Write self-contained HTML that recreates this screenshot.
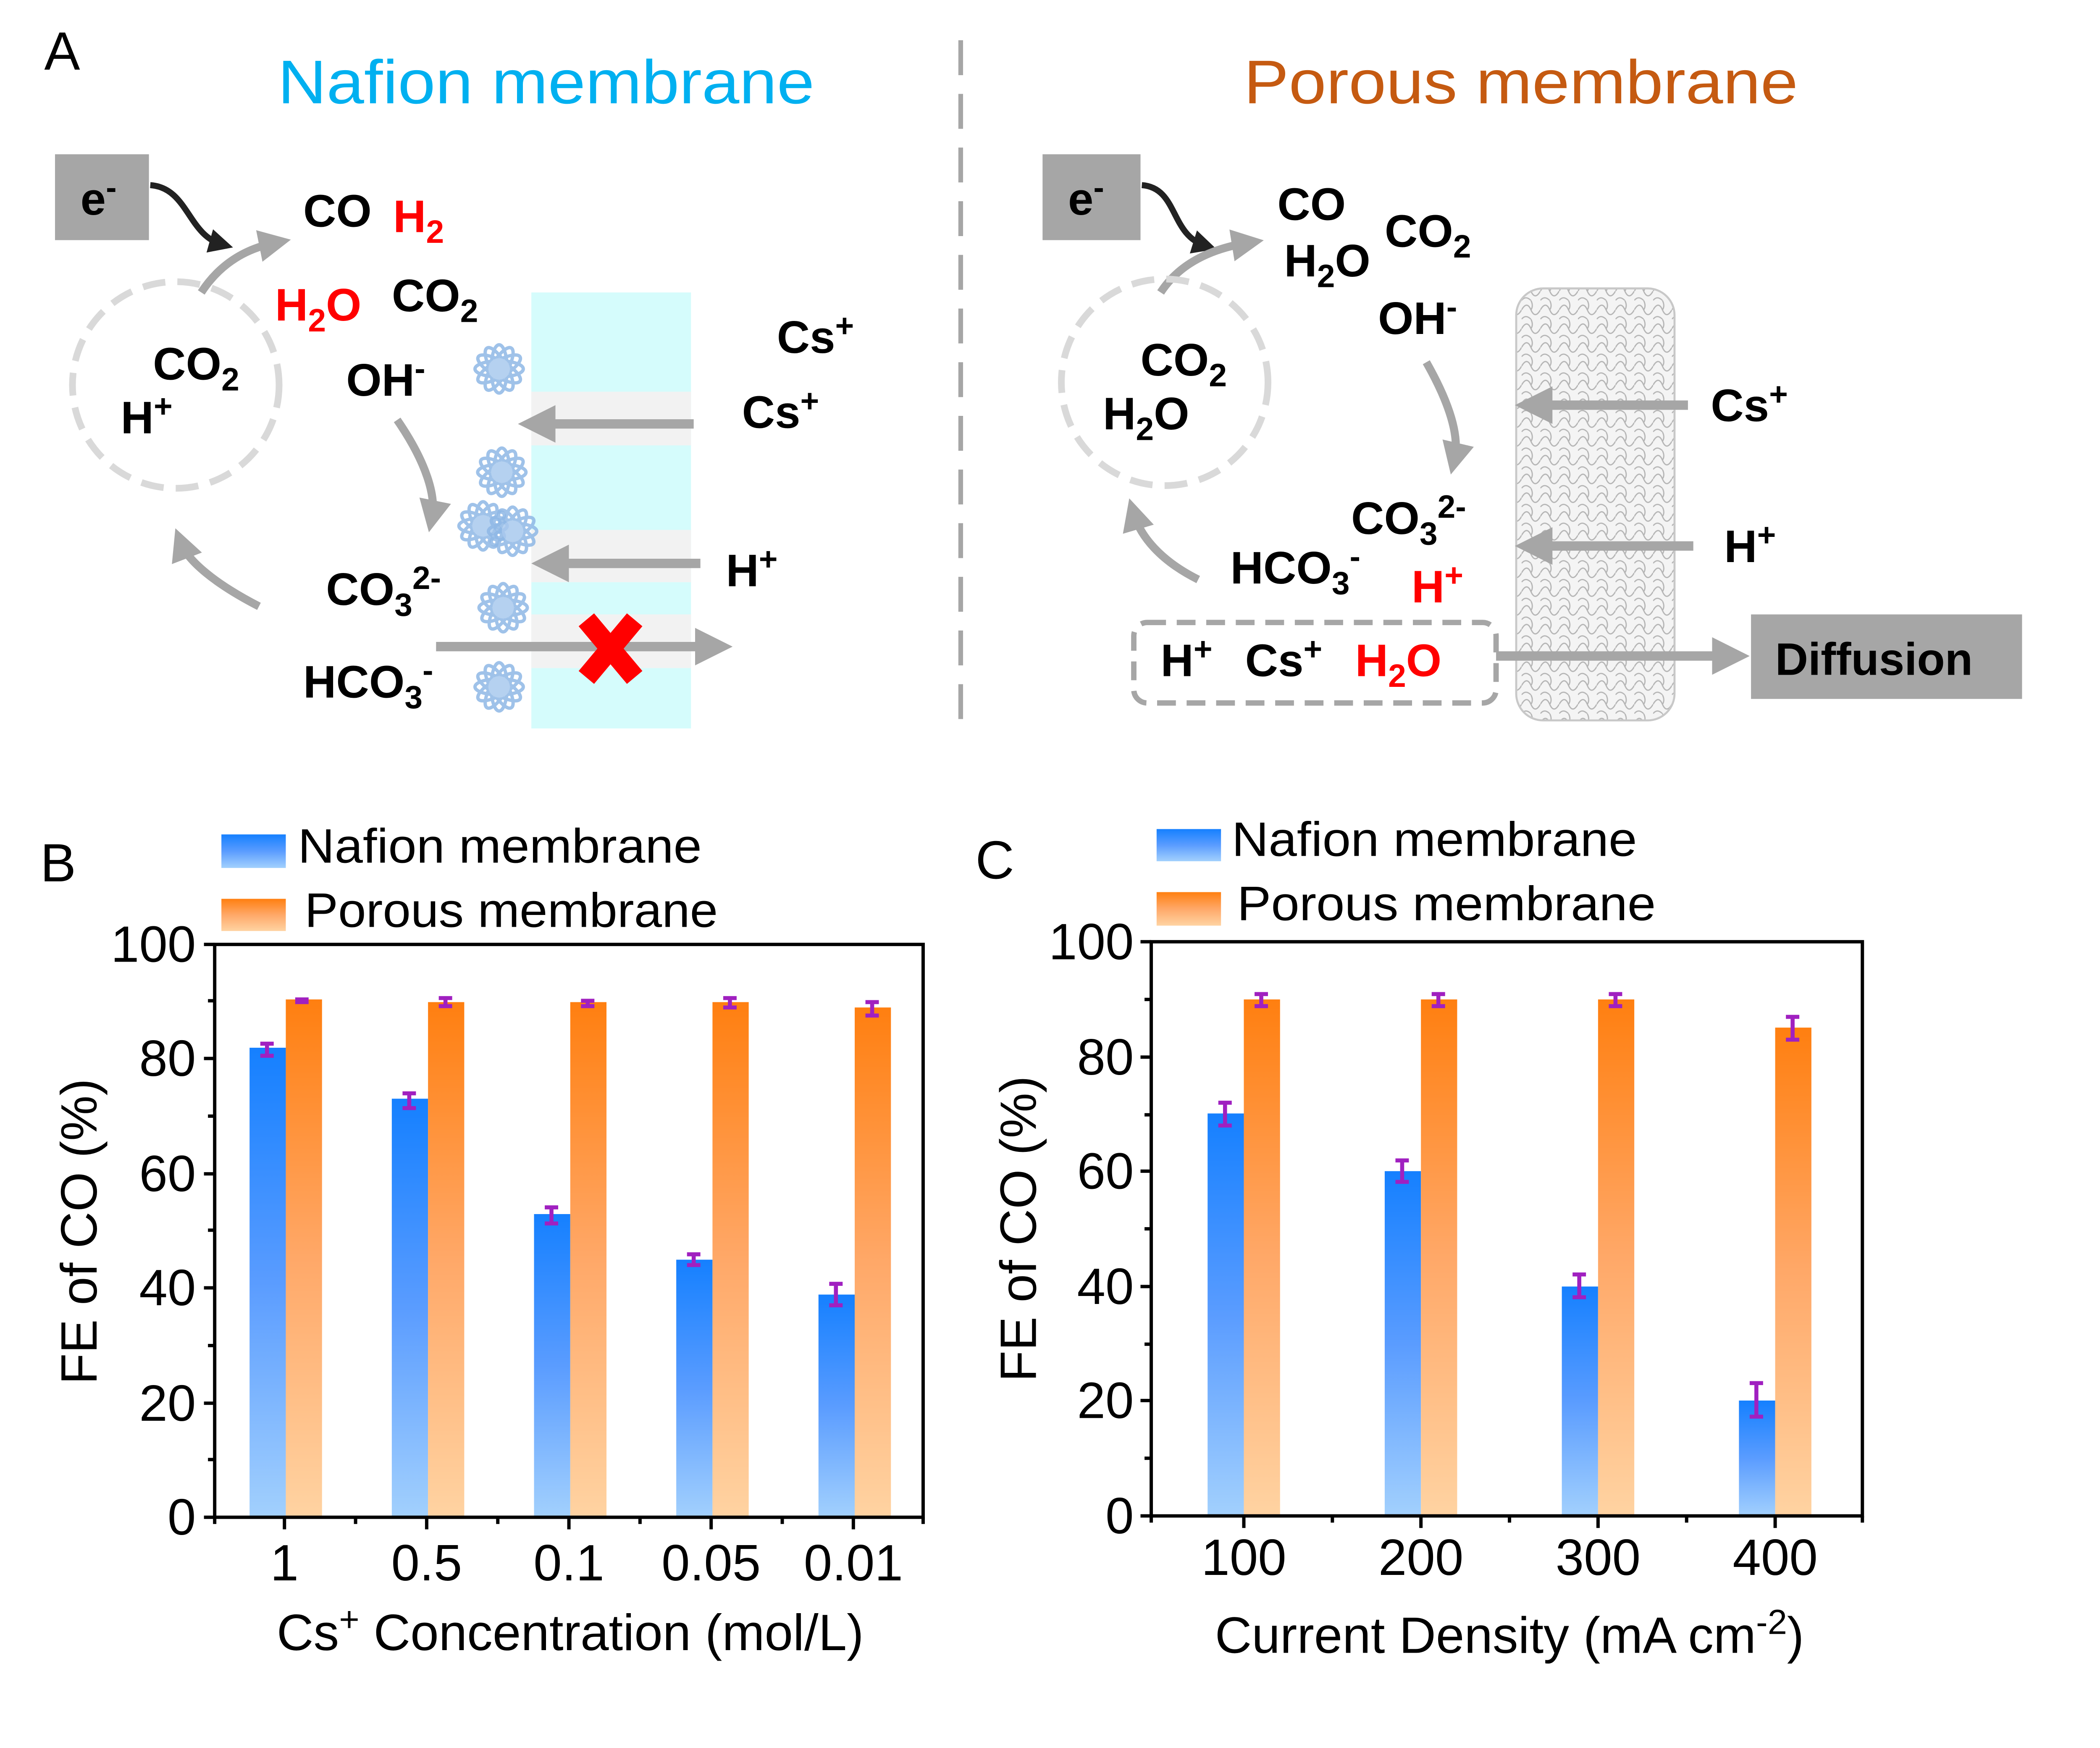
<!DOCTYPE html>
<html><head><meta charset="utf-8"><style>
html,body{margin:0;padding:0;background:#fff;}
svg{display:block;}
text{font-family:"Liberation Sans",Arial,sans-serif;}
.b{font-weight:bold;font-size:34px;}
.t{font-size:38px;}
</style></head><body>
<svg width="5185" height="4161" viewBox="0 0 1623 1303" preserveAspectRatio="none" xmlns="http://www.w3.org/2000/svg">
<defs>
<linearGradient id="gb" x1="0" y1="0" x2="0" y2="1"><stop offset="0" stop-color="#1580ff"/><stop offset="0.5" stop-color="#5a9cff"/><stop offset="1" stop-color="#a2d0fd"/></linearGradient>
<linearGradient id="go" x1="0" y1="0" x2="0" y2="1"><stop offset="0" stop-color="#ff7f10"/><stop offset="0.5" stop-color="#ffa868"/><stop offset="1" stop-color="#ffd3a2"/></linearGradient>
<pattern id="mesh" width="14" height="14" patternUnits="userSpaceOnUse"><rect width="14" height="14" fill="#f4f4f4"/><path d="M0 7 Q4 0 7 7 T14 7 M7 0 Q9 4 7 7 M0 14 Q3 10 7 14" fill="none" stroke="#b5b5b5" stroke-width="0.9"/></pattern>
<marker id="ah" markerWidth="4" markerHeight="4" refX="2" refY="2" orient="auto" markerUnits="strokeWidth"><path d="M0,0 L4,2 L0,4 z" fill="#a6a6a6"/></marker>
<marker id="ak" markerWidth="4" markerHeight="4" refX="2" refY="2" orient="auto" markerUnits="strokeWidth"><path d="M0,0 L4,2 L0,4 z" fill="#222"/></marker>
<g id="fl" fill="none" stroke="#8fb8e6" stroke-width="2.5" opacity="0.85">
<ellipse rx="18" ry="6"/><ellipse rx="18" ry="6" transform="rotate(30)"/><ellipse rx="18" ry="6" transform="rotate(60)"/><ellipse rx="18" ry="6" transform="rotate(90)"/><ellipse rx="18" ry="6" transform="rotate(120)"/><ellipse rx="18" ry="6" transform="rotate(150)"/>
<circle r="8" fill="#a9c9ee" stroke="none"/>
</g>
</defs>

<!-- Panel A -->
<text x="33" y="52" font-size="40">A</text>
<text x="207" y="77" font-size="46" fill="#00b0f0" textLength="400" lengthAdjust="spacingAndGlyphs">Nafion membrane</text>
<text x="927" y="77" font-size="46" fill="#c55a11" textLength="413" lengthAdjust="spacingAndGlyphs">Porous membrane</text>
<line x1="716" y1="30" x2="716" y2="545" stroke="#a6a6a6" stroke-width="3.5" stroke-dasharray="26 14"/>

<!-- left scheme -->
<rect x="396" y="218" width="119" height="325" fill="#d5fcfc"/>
<rect x="396" y="292" width="119" height="40" fill="#f2f2f2"/>
<rect x="396" y="395" width="119" height="39" fill="#f2f2f2"/>
<rect x="396" y="458" width="119" height="40" fill="#f2f2f2"/>
<rect x="41" y="115" width="70" height="64" fill="#a6a6a6"/>
<text x="60" y="160" class="b">e<tspan dy="-12" font-size="24">-</tspan></text>
<path d="M112 138 C140 140 140 175 165 182" fill="none" stroke="#222" stroke-width="4.5" marker-end="url(#ak)"/>
<path d="M150 218 C165 195 185 185 205 181" fill="none" stroke="#a6a6a6" stroke-width="6" marker-end="url(#ah)"/>
<circle cx="131" cy="287" r="77" fill="none" stroke="#d9d9d9" stroke-width="5" stroke-dasharray="17 9"/>
<text x="114" y="283" class="b">CO<tspan dy="8" font-size="24">2</tspan></text>
<text x="90" y="323" class="b">H<tspan dy="-12" font-size="24">+</tspan></text>
<text x="226" y="169" class="b">CO</text>
<text x="293" y="173" class="b" fill="#ff0000">H<tspan dy="8" font-size="24">2</tspan></text>
<text x="205" y="239" class="b" fill="#ff0000">H<tspan dy="8" font-size="24">2</tspan><tspan dy="-8">O</tspan></text>
<text x="292" y="232" class="b">CO<tspan dy="8" font-size="24">2</tspan></text>
<text x="258" y="295" class="b">OH<tspan dy="-12" font-size="24">-</tspan></text>
<path d="M296 313 C318 345 325 370 322 385" fill="none" stroke="#a6a6a6" stroke-width="6" marker-end="url(#ah)"/>
<path d="M193 452 C160 435 140 418 135 405" fill="none" stroke="#a6a6a6" stroke-width="6" marker-end="url(#ah)"/>
<use href="#fl" x="372" y="275"/><use href="#fl" x="374" y="352"/>
<use href="#fl" x="360" y="392"/><use href="#fl" x="382" y="396"/>
<use href="#fl" x="375" y="453"/><use href="#fl" x="372" y="512"/>
<line x1="517" y1="316" x2="400" y2="316" stroke="#a6a6a6" stroke-width="7" marker-end="url(#ah)"/>
<line x1="522" y1="420" x2="410" y2="420" stroke="#a6a6a6" stroke-width="7" marker-end="url(#ah)"/>
<line x1="325" y1="482" x2="532" y2="482" stroke="#a6a6a6" stroke-width="7" marker-end="url(#ah)"/>
<path d="M437 462 L473 505 M473 462 L437 505" stroke="#ff0000" stroke-width="15"/>
<text x="579" y="263" class="b">Cs<tspan dy="-12" font-size="24">+</tspan></text>
<text x="553" y="319" class="b">Cs<tspan dy="-12" font-size="24">+</tspan></text>
<text x="541" y="437" class="b">H<tspan dy="-12" font-size="24">+</tspan></text>
<text x="243" y="451" class="b">CO<tspan dy="8" font-size="24">3</tspan><tspan dy="-20" font-size="24">2-</tspan></text>
<text x="226" y="520" class="b">HCO<tspan dy="8" font-size="24">3</tspan><tspan dy="-20" font-size="24">-</tspan></text>

<!-- right scheme -->
<rect x="1130" y="215" width="118" height="322" rx="20" fill="url(#mesh)" stroke="#c8c8c8" stroke-width="1.5"/>
<rect x="777" y="115" width="73" height="64" fill="#a6a6a6"/>
<text x="796" y="160" class="b">e<tspan dy="-12" font-size="24">-</tspan></text>
<path d="M851 138 C878 140 872 175 898 183" fill="none" stroke="#222" stroke-width="4.5" marker-end="url(#ak)"/>
<path d="M865 218 C880 195 905 185 930 181" fill="none" stroke="#a6a6a6" stroke-width="6" marker-end="url(#ah)"/>
<circle cx="868" cy="285" r="77" fill="none" stroke="#d9d9d9" stroke-width="5" stroke-dasharray="17 9"/>
<text x="850" y="280" class="b">CO<tspan dy="8" font-size="24">2</tspan></text>
<text x="822" y="320" class="b">H<tspan dy="8" font-size="24">2</tspan><tspan dy="-8">O</tspan></text>
<text x="952" y="164" class="b">CO</text>
<text x="1032" y="184" class="b">CO<tspan dy="8" font-size="24">2</tspan></text>
<text x="957" y="206" class="b">H<tspan dy="8" font-size="24">2</tspan><tspan dy="-8">O</tspan></text>
<text x="1027" y="249" class="b">OH<tspan dy="-12" font-size="24">-</tspan></text>
<path d="M1063 270 C1080 300 1088 325 1084 342" fill="none" stroke="#a6a6a6" stroke-width="6" marker-end="url(#ah)"/>
<path d="M893 432 C865 418 850 400 845 383" fill="none" stroke="#a6a6a6" stroke-width="6" marker-end="url(#ah)"/>
<line x1="1258" y1="302" x2="1143" y2="302" stroke="#a6a6a6" stroke-width="7" marker-end="url(#ah)"/>
<line x1="1262" y1="407" x2="1143" y2="407" stroke="#a6a6a6" stroke-width="7" marker-end="url(#ah)"/>
<text x="1275" y="314" class="b">Cs<tspan dy="-12" font-size="24">+</tspan></text>
<text x="1285" y="419" class="b">H<tspan dy="-12" font-size="24">+</tspan></text>
<text x="1007" y="398" class="b">CO<tspan dy="8" font-size="24">3</tspan><tspan dy="-20" font-size="24">2-</tspan></text>
<text x="917" y="435" class="b">HCO<tspan dy="8" font-size="24">3</tspan><tspan dy="-20" font-size="24">-</tspan></text>
<text x="1052" y="449" class="b" fill="#ff0000">H<tspan dy="-12" font-size="24">+</tspan></text>
<rect x="845" y="464" width="270" height="60" rx="10" fill="none" stroke="#a6a6a6" stroke-width="4" stroke-dasharray="14 8"/>
<text x="865" y="504" class="b">H<tspan dy="-12" font-size="24">+</tspan></text>
<text x="928" y="504" class="b">Cs<tspan dy="-12" font-size="24">+</tspan></text>
<text x="1010" y="504" class="b" fill="#ff0000">H<tspan dy="8" font-size="24">2</tspan><tspan dy="-8">O</tspan></text>
<line x1="1115" y1="489" x2="1290" y2="489" stroke="#a6a6a6" stroke-width="7" marker-end="url(#ah)"/>
<rect x="1305" y="458" width="202" height="63" fill="#a6a6a6"/>
<text x="1323" y="503" class="b">Diffusion</text>

<!-- Panel B -->
<text x="30" y="657" font-size="40">B</text>
<rect x="165" y="622" width="48" height="25" fill="url(#gb)"/>
<text x="222" y="643" font-size="36" textLength="301" lengthAdjust="spacingAndGlyphs">Nafion membrane</text>
<rect x="165" y="670" width="48" height="24" fill="url(#go)"/>
<text x="227" y="691" font-size="36" textLength="308" lengthAdjust="spacingAndGlyphs">Porous membrane</text>
<g>
<rect x="186" y="781" width="27" height="350" fill="url(#gb)"/><rect x="213" y="745" width="27" height="386" fill="url(#go)"/>
<rect x="292" y="819" width="27" height="312" fill="url(#gb)"/><rect x="319" y="747" width="27" height="384" fill="url(#go)"/>
<rect x="398" y="905" width="27" height="226" fill="url(#gb)"/><rect x="425" y="747" width="27" height="384" fill="url(#go)"/>
<rect x="504" y="939" width="27" height="192" fill="url(#gb)"/><rect x="531" y="747" width="27" height="384" fill="url(#go)"/>
<rect x="610" y="965" width="27" height="166" fill="url(#gb)"/><rect x="637" y="751" width="27" height="380" fill="url(#go)"/>
<g stroke="#a020c0" stroke-width="3">
<path d="M194 778h10M194 787h10M199 778v9"/><path d="M220 745h10M220 747h10"/>
<path d="M300 815h10M300 826h10M305 815v11"/><path d="M327 744h10M327 750h10M332 744v6"/>
<path d="M406 900h10M406 912h10M411 900v12"/><path d="M433 746h10M433 750h10M438 746v4"/>
<path d="M512 935h10M512 943h10M517 935v8"/><path d="M539 744h10M539 751h10M544 744v7"/>
<path d="M618 957h10M618 973h10M623 957v16"/><path d="M645 747h10M645 757h10M650 747v10"/>
</g>
</g>
<rect x="160" y="704" width="528" height="427" fill="none" stroke="#000" stroke-width="2.5"/>
<g stroke="#000" stroke-width="2.5">
<path d="M160 1131h-8M160 1046h-8M160 960h-8M160 875h-8M160 789h-8M160 704h-8"/>
<path d="M160 1088h-5M160 1003h-5M160 917h-5M160 832h-5M160 746h-5"/>
<path d="M212 1131v9M318 1131v9M424 1131v9M530 1131v9M636 1131v9"/>
<path d="M160 1131v5M265 1131v5M371 1131v5M477 1131v5M583 1131v5M688 1131v5"/>
</g>
<g class="t" text-anchor="end">
<text x="146" y="1144">0</text><text x="146" y="1059">20</text><text x="146" y="973">40</text><text x="146" y="888">60</text><text x="146" y="802">80</text><text x="146" y="717">100</text>
</g>
<g class="t" text-anchor="middle">
<text x="212" y="1178">1</text><text x="318" y="1178">0.5</text><text x="424" y="1178">0.1</text><text x="530" y="1178">0.05</text><text x="636" y="1178">0.01</text>
<text x="425" y="1230">Cs<tspan dy="-14" font-size="26">+</tspan><tspan dy="14"> Concentration (mol/L)</tspan></text>
<text transform="translate(72 918) rotate(-90)">FE of CO (%)</text>
</g>

<!-- Panel C -->
<text x="727" y="655" font-size="40">C</text>
<rect x="862" y="618" width="48" height="24" fill="url(#gb)"/>
<text x="918" y="638" font-size="36" textLength="302" lengthAdjust="spacingAndGlyphs">Nafion membrane</text>
<rect x="862" y="665" width="48" height="25" fill="url(#go)"/>
<text x="922" y="686" font-size="36" textLength="312" lengthAdjust="spacingAndGlyphs">Porous membrane</text>
<rect x="900" y="830" width="27" height="300" fill="url(#gb)"/><rect x="927" y="745" width="27" height="385" fill="url(#go)"/>
<rect x="1032" y="873" width="27" height="257" fill="url(#gb)"/><rect x="1059" y="745" width="27" height="385" fill="url(#go)"/>
<rect x="1164" y="959" width="27" height="171" fill="url(#gb)"/><rect x="1191" y="745" width="27" height="385" fill="url(#go)"/>
<rect x="1296" y="1044" width="27" height="86" fill="url(#gb)"/><rect x="1323" y="766" width="27" height="364" fill="url(#go)"/>
<g stroke="#a020c0" stroke-width="3">
<path d="M908 822h10M908 839h10M913 822v17"/><path d="M935 741h10M935 750h10M940 741v9"/>
<path d="M1040 865h10M1040 881h10M1045 865v16"/><path d="M1067 741h10M1067 750h10M1072 741v9"/>
<path d="M1172 950h10M1172 967h10M1177 950v17"/><path d="M1199 741h10M1199 750h10M1204 741v9"/>
<path d="M1304 1031h10M1304 1056h10M1309 1031v25"/><path d="M1331 758h10M1331 775h10M1336 758v17"/>
</g>
<rect x="858" y="702" width="530" height="428" fill="none" stroke="#000" stroke-width="2.5"/>
<g stroke="#000" stroke-width="2.5">
<path d="M858 1130h-8M858 1044h-8M858 959h-8M858 873h-8M858 788h-8M858 702h-8"/>
<path d="M858 1087h-5M858 1002h-5M858 916h-5M858 831h-5M858 745h-5"/>
<path d="M927 1130v9M1059 1130v9M1191 1130v9M1323 1130v9"/>
<path d="M858 1130v5M993 1130v5M1125 1130v5M1257 1130v5M1388 1130v5"/>
</g>
<g class="t" text-anchor="end">
<text x="845" y="1143">0</text><text x="845" y="1057">20</text><text x="845" y="972">40</text><text x="845" y="886">60</text><text x="845" y="801">80</text><text x="845" y="715">100</text>
</g>
<g class="t" text-anchor="middle">
<text x="927" y="1174">100</text><text x="1059" y="1174">200</text><text x="1191" y="1174">300</text><text x="1323" y="1174">400</text>
<text x="1125" y="1232">Current Density (mA cm<tspan dy="-14" font-size="26">-2</tspan><tspan dy="14">)</tspan></text>
<text transform="translate(772 916) rotate(-90)">FE of CO (%)</text>
</g>
</svg>
</body></html>
